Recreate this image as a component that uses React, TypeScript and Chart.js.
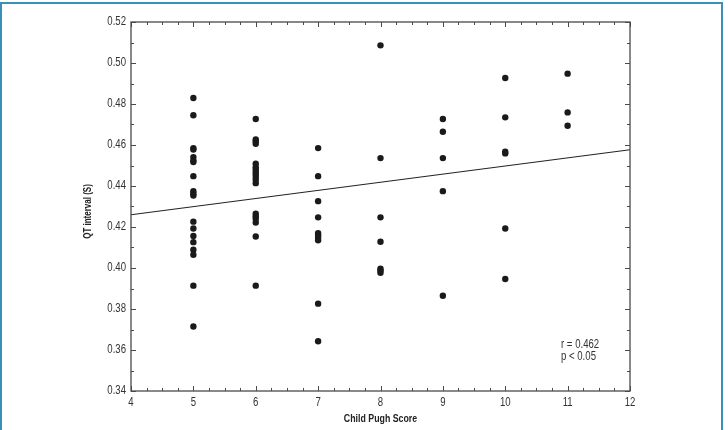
import React, { useEffect, useRef } from "react";
import { Chart, registerables } from "chart.js";

Chart.register(...registerables);

// Child Pugh score groups and QT interval values (s)
const score5 = [0.4829, 0.4745, 0.4585, 0.4578, 0.4541, 0.4525, 0.4517, 0.4448, 0.4375, 0.4362, 0.4354, 0.4226, 0.4193, 0.4156, 0.4126, 0.4089, 0.4065, 0.3914, 0.3715];
const score6 = [0.4727, 0.4627, 0.4618, 0.4606, 0.4509, 0.4492, 0.4481, 0.4468, 0.4457, 0.4444, 0.4431, 0.4414, 0.4265, 0.4253, 0.424, 0.4222, 0.4154, 0.3914];
const score7 = [0.4585, 0.4448, 0.4326, 0.4247, 0.417, 0.4159, 0.4148, 0.4135, 0.3826, 0.3643];
const score8 = [0.5086, 0.4536, 0.4247, 0.4128, 0.3996, 0.3988, 0.3977];
const score9 = [0.4727, 0.4665, 0.4536, 0.4375, 0.3865];
const score10 = [0.4927, 0.4735, 0.4567, 0.4559, 0.4193, 0.3946];
const score11 = [0.4948, 0.4759, 0.4694];

const groupScores = [5, 6, 7, 8, 9, 10, 11];
const groupValues = [score5, score6, score7, score8, score9, score10, score11];

// Regression line end points
const fitX = [4, 12];
const fitY = [0.426, 0.4577];

const xTicks = [4, 5, 6, 7, 8, 9, 10, 11, 12];
const yTickMin = 0.34;
const yTickMax = 0.52;
const yTickStep = 0.02;

const annotationLines = ["r = 0.462", "p < 0.05"];
const xTitle = "Child Pugh Score";
const yTitle = "QT interval (S)";

const FONT = '"Liberation Sans", Arial, sans-serif';
const SQUEEZE = 0.8;

function condensedText(ctx: any, text: string, x: number, y: number, align: string) {
  ctx.save();
  ctx.translate(x, y);
  ctx.scale(SQUEEZE, 1);
  ctx.textAlign = align;
  ctx.fillText(text, 0, 0);
  ctx.restore();
}

const framePlugin = {
  id: "framePlugin",
  afterDraw(chart: any) {
    const ctx = chart.ctx;
    const { left, right, top, bottom } = chart.chartArea;
    const xs = chart.scales.x;
    const ys = chart.scales.y;
    ctx.save();
    // frame
    ctx.strokeStyle = "#4a4a4a";
    ctx.lineWidth = 1.3;
    ctx.strokeRect(left, top, right - left, bottom - top);
    // ticks inward
    ctx.lineWidth = 1;
    ctx.beginPath();
    for (let v = 4; v <= 12.0001; v += 0.25) {
      const px = Math.round(xs.getPixelForValue(v)) + 0.5;
      const major = Math.abs(v - Math.round(v)) < 1e-6;
      const len = major ? 5 : 3;
      ctx.moveTo(px, bottom);
      ctx.lineTo(px, bottom - len);
      ctx.moveTo(px, top);
      ctx.lineTo(px, top + len);
    }
    for (let i = 0; i <= 18; i++) {
      const v = 0.34 + i * 0.01;
      const py = Math.round(ys.getPixelForValue(v)) + 0.5;
      const len = i % 2 === 0 ? 5 : 3;
      ctx.moveTo(left, py);
      ctx.lineTo(left + len, py);
      ctx.moveTo(right, py);
      ctx.lineTo(right - len, py);
    }
    ctx.stroke();

    // tick labels
    ctx.fillStyle = "#333";
    ctx.font = `12px ${FONT}`;
    ctx.textBaseline = "middle";
    xs.ticks.forEach((t: any) => {
      condensedText(ctx, String(t.value), xs.getPixelForValue(t.value), bottom + 12, "center");
    });
    ys.ticks.forEach((t: any) => {
      condensedText(ctx, Number(t.value).toFixed(2), left - 5, ys.getPixelForValue(t.value), "right");
    });

    // axis titles
    ctx.fillStyle = "#222";
    ctx.font = `bold 11px ${FONT}`;
    condensedText(ctx, xTitle, (left + right) / 2, 419, "center");
    ctx.save();
    ctx.translate(88, (top + bottom) / 2 + 5);
    ctx.rotate(-Math.PI / 2);
    ctx.font = `bold 10px ${FONT}`;
    condensedText(ctx, yTitle, 0, 0, "center");
    ctx.restore();

    // annotation
    ctx.font = `12px ${FONT}`;
    ctx.fillStyle = "#333";
    condensedText(ctx, annotationLines[0], 561, 345, "left");
    condensedText(ctx, annotationLines[1], 561, 357, "left");

    // outer border
    ctx.strokeStyle = "#3a91b5";
    ctx.lineWidth = 2;
    ctx.strokeRect(1, 3, 721, 440);
    ctx.restore();
  },
};

export default function App() {
  const ref = useRef<HTMLCanvasElement>(null);

  useEffect(() => {
    document.body.style.margin = "0";
    const points: { x: number; y: number }[] = [];
    groupScores.forEach((s, i) => {
      groupValues[i].forEach((v) => points.push({ x: s, y: v }));
    });
    const fit = fitX.map((x, i) => ({ x, y: fitY[i] }));

    const chart = new Chart(ref.current!, {
      type: "scatter",
      data: {
        datasets: [
          {
            data: points,
            backgroundColor: "#1a1a1a",
            borderColor: "#1a1a1a",
            pointRadius: 3.2,
            pointBorderWidth: 0,
          },
          {
            type: "line",
            data: fit,
            borderColor: "#222",
            borderWidth: 1.1,
            pointRadius: 0,
            showLine: true,
            fill: false,
          } as any,
        ],
      },
      options: {
        animation: false,
        responsive: false,
        layout: { padding: { left: 0, top: 22, right: 98, bottom: 0 } },
        plugins: { legend: { display: false }, tooltip: { enabled: false } },
        scales: {
          x: {
            type: "linear",
            min: 4,
            max: 12,
            afterBuildTicks: (scale: any) => {
              scale.ticks = xTicks.map((v) => ({ value: v }));
            },
            afterFit: (scale: any) => {
              scale.height = 39;
            },
            grid: { display: false, drawTicks: false },
            border: { display: false },
            ticks: { display: false },
          },
          y: {
            type: "linear",
            min: yTickMin,
            max: yTickMax,
            afterBuildTicks: (scale: any) => {
              const t: { value: number }[] = [];
              for (let i = 0; i <= Math.round((yTickMax - yTickMin) / yTickStep); i++) {
                t.push({ value: +(yTickMin + i * yTickStep).toFixed(2) });
              }
              scale.ticks = t;
            },
            afterFit: (scale: any) => {
              scale.width = 131;
            },
            grid: { display: false, drawTicks: false },
            border: { display: false },
            ticks: { display: false },
          },
        },
      },
      plugins: [framePlugin],
    });
    return () => chart.destroy();
  }, []);

  return (
    <div style={{ position: "relative", width: 728, height: 430, background: "#fff" }}>
      <canvas ref={ref} width={728} height={430} style={{ display: "block" }} />
    </div>
  );
}
